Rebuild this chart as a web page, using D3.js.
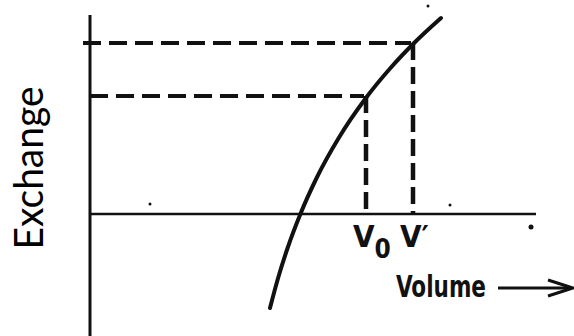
<!DOCTYPE html>
<html>
<head>
<meta charset="utf-8">
<script src="https://cdn.jsdelivr.net/npm/d3@7"></script>
<style>
  html, body { margin: 0; padding: 0; background: #fff; }
  svg { display: block; }
</style>
</head>
<body>
<div id="chart"></div>
<script>
// exchange vs volume curve
var volume   = [1.800, 1.881, 1.976, 2.104, 2.266, 2.487, 2.759, 3.005, 3.241, 3.510];
var exchange = [-0.94, -0.64, -0.34, 0.00, 0.36, 0.76, 1.16, 1.46, 1.71, 1.96];

var markLabels   = ["V", "V"];
var markSubs     = ["0", "\u2032"];
var markVolume   = [2.76, 3.23];
var markExchange = [1.18, 1.71];

var xTitle = "Volume";
var yTitle = "Exchange";

// stray specks from the scan
var speckX = [0.60, 3.60, 4.41, 3.38];
var speckY = [0.10, 0.09, -0.13, 2.08];

var width = 574, height = 336;

var svg = d3.select("#chart").append("svg")
    .attr("width", width)
    .attr("height", height);

var x = d3.scaleLinear().domain([0, 4.46]).range([90, 536]);
var y = d3.scaleLinear().domain([-1.22, 1.99]).range([336, 15]);

var ink = "#111";

// axes
svg.append("line")
    .attr("x1", x(0)).attr("x2", x(0))
    .attr("y1", y(1.99)).attr("y2", y(-1.22))
    .attr("stroke", ink).attr("stroke-width", 3);

svg.append("line")
    .attr("x1", x(0)).attr("x2", x(4.46))
    .attr("y1", y(0)).attr("y2", y(0))
    .attr("stroke", ink).attr("stroke-width", 2.6);

// dashed guides
var marks = markVolume.map(function (v, i) {
    return {v: v, e: markExchange[i], label: markLabels[i], sub: markSubs[i]};
});

svg.selectAll("line.hguide")
    .data(marks)
    .enter()
    .append("line")
    .attr("class", "hguide")
    .attr("x1", function (d, i) { return i == 1 ? x(-0.07) : x(0); })
    .attr("x2", function (d) { return x(d.v) - 2; })
    .attr("y1", function (d) { return y(d.e); })
    .attr("y2", function (d) { return y(d.e); })
    .attr("stroke", ink)
    .attr("stroke-width", 4)
    .attr("stroke-dasharray", "18,8");

svg.selectAll("line.vguide")
    .data(marks)
    .enter()
    .append("line")
    .attr("class", "vguide")
    .attr("x1", function (d) { return x(d.v); })
    .attr("x2", function (d) { return x(d.v); })
    .attr("y1", function (d) { return y(d.e); })
    .attr("y2", function (d) { return y(0); })
    .attr("stroke", ink)
    .attr("stroke-width", 4.5)
    .attr("stroke-dasharray", "17,7");

// curve
var pts = volume.map(function (v, i) { return {x: v, y: exchange[i]}; });

var line = d3.line()
    .x(function (d) { return x(d.x); })
    .y(function (d) { return y(d.y); })
    .curve(d3.curveMonotoneX);

svg.append("path")
    .datum(pts)
    .attr("d", line)
    .attr("fill", "none")
    .attr("stroke", ink)
    .attr("stroke-width", 4)
    .attr("stroke-linecap", "round");

// specks
svg.selectAll("circle.speck")
    .data(speckX)
    .enter()
    .append("circle")
    .attr("class", "speck")
    .attr("cx", function (d) { return x(d); })
    .attr("cy", function (d, i) { return y(speckY[i]); })
    .attr("r", function (d, i) { return i == 2 ? 2.5 : 1.5; })
    .attr("fill", ink);

// V labels
var lab = svg.selectAll("text.mark")
    .data(marks)
    .enter()
    .append("text")
    .attr("class", "mark")
    .attr("x", function (d) { return x(d.v) - 13; })
    .attr("y", y(0) + 33)
    .attr("font-family", "'Liberation Sans Narrow', 'DejaVu Sans Condensed', sans-serif")
    .attr("font-weight", "bold")
    .attr("font-size", 31)
    .attr("fill", ink);

lab.append("tspan").text(function (d) { return d.label; });
lab.append("tspan")
    .attr("dy", function (d, i) { return i == 0 ? 11 : 0; })
    .attr("font-size", function (d, i) { return i == 0 ? 26 : 31; })
    .text(function (d) { return d.sub; });

// axis titles
svg.append("text")
    .attr("x", 396)
    .attr("y", 297)
    .attr("font-family", "'Liberation Sans Narrow', 'DejaVu Sans Condensed', sans-serif")
    .attr("font-weight", "bold")
    .attr("font-size", 31)
    .attr("textLength", 90)
    .attr("lengthAdjust", "spacingAndGlyphs")
    .attr("fill", ink)
    .text(xTitle);

svg.append("line")
    .attr("x1", 498).attr("x2", 571)
    .attr("y1", 288).attr("y2", 288)
    .attr("stroke", ink).attr("stroke-width", 3);

svg.append("path")
    .attr("d", "M548,280 L573,288 L548,296")
    .attr("fill", "none")
    .attr("stroke", ink)
    .attr("stroke-width", 3.2)
    .attr("stroke-linejoin", "miter");

svg.append("text")
    .attr("transform", "translate(43,168) rotate(-90)")
    .attr("text-anchor", "middle")
    .attr("font-family", "Lato, 'Open Sans', sans-serif")
    .attr("font-size", 41)
    .attr("textLength", 163)
    .attr("lengthAdjust", "spacingAndGlyphs")
    .attr("fill", "#000")
    .text(yTitle);
</script>
</body>
</html>
